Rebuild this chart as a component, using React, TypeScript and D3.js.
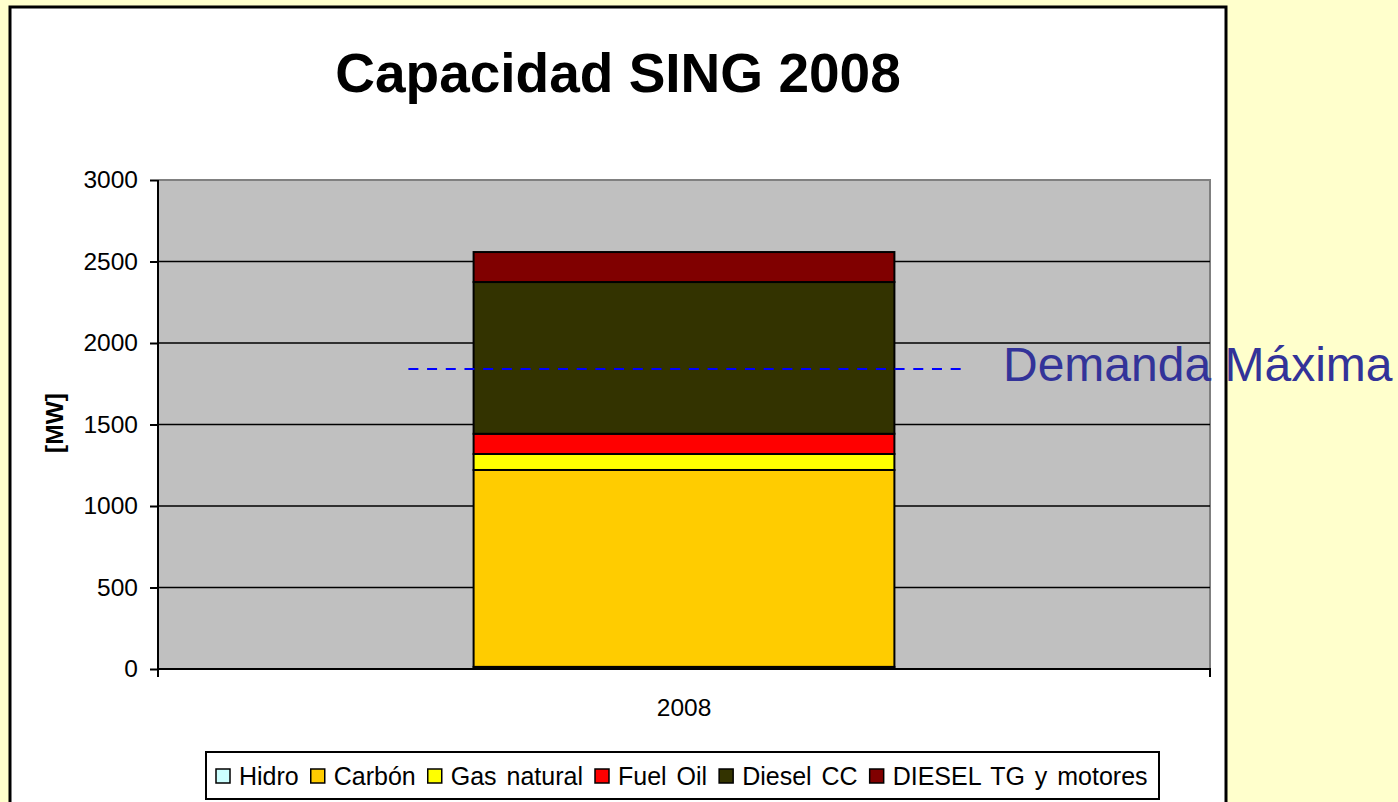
import * as d3 from "d3";
import React from "react";

// chart values
const categories = ["2008"];
const seriesNames = ["Hidro", "Carbón", "Gas natural", "Fuel Oil", "Diesel CC", "DIESEL TG y motores"];
const seriesColors = ["#CCFFFF", "#FFCC00", "#FFFF00", "#FF0000", "#333300", "#800000"];
const hidro = [13];
const carbon = [1208];
const gasNatural = [98];
const fuelOil = [124];
const dieselCC = [931];
const dieselTG = [184];
const demandaMaxima = 1840;
const yTicks = [0, 500, 1000, 1500, 2000, 2500, 3000];

const App = () => {
  const ref = React.useRef<SVGSVGElement>(null);

  React.useEffect(() => {
    const svg = d3.select(ref.current);
    svg.selectAll("*").remove();
    const font = "'Liberation Sans', Arial, sans-serif";

    // page + chart frame
    svg.append("rect").attr("width", 1398).attr("height", 802).attr("fill", "#FFFFCC");
    svg
      .append("rect")
      .attr("x", 10)
      .attr("y", 7)
      .attr("width", 1216)
      .attr("height", 820)
      .attr("fill", "white")
      .attr("stroke", "black")
      .attr("stroke-width", 3);

    svg
      .append("text")
      .attr("x", 618)
      .attr("y", 92)
      .attr("text-anchor", "middle")
      .attr("font-family", font)
      .attr("font-weight", "bold")
      .attr("font-size", 55)
      .text("Capacidad SING 2008");

    const plot = { left: 158, right: 1210, top: 180, bottom: 669 };

    const y = d3.scaleLinear().domain([0, 3000]).range([plot.bottom, plot.top]);
    const x = d3
      .scaleBand()
      .domain(categories)
      .range([plot.left, plot.right])
      .paddingInner(0)
      .paddingOuter(0.75);

    // grey plot area, grey border top/right
    svg
      .append("rect")
      .attr("x", plot.left)
      .attr("y", plot.top)
      .attr("width", plot.right - plot.left)
      .attr("height", plot.bottom - plot.top)
      .attr("fill", "#C0C0C0");
    svg
      .append("path")
      .attr("d", `M${plot.left},${plot.top}H${plot.right}V${plot.bottom}`)
      .attr("fill", "none")
      .attr("stroke", "#808080")
      .attr("stroke-width", 2);

    // gridlines
    svg
      .append("g")
      .selectAll("line")
      .data(yTicks.filter((t) => t > 0 && t < 3000))
      .enter()
      .append("line")
      .attr("x1", plot.left)
      .attr("x2", plot.right)
      .attr("y1", (d) => y(d))
      .attr("y2", (d) => y(d))
      .attr("stroke", "black")
      .attr("stroke-width", 1.5);

    // stacked bar
    const table = categories.map((c, i) => ({
      cat: c,
      [seriesNames[0]]: hidro[i],
      [seriesNames[1]]: carbon[i],
      [seriesNames[2]]: gasNatural[i],
      [seriesNames[3]]: fuelOil[i],
      [seriesNames[4]]: dieselCC[i],
      [seriesNames[5]]: dieselTG[i],
    }));
    const stacked = d3.stack<any>().keys(seriesNames)(table);

    stacked.forEach((layer, li) => {
      svg
        .append("g")
        .selectAll("rect")
        .data(layer)
        .enter()
        .append("rect")
        .attr("x", (d: any) => x(d.data.cat)!)
        .attr("width", x.bandwidth())
        .attr("y", (d) => y(d[1]))
        .attr("height", (d) => y(d[0]) - y(d[1]))
        .attr("fill", seriesColors[li])
        .attr("stroke", "black")
        .attr("stroke-width", 2);
    });

    // axes
    const yAxis = d3
      .axisLeft(y)
      .tickValues(yTicks)
      .tickFormat(d3.format("d"))
      .tickSize(8)
      .tickPadding(12);
    const yg = svg.append("g").attr("transform", `translate(${plot.left},0)`).call(yAxis);
    yg.select(".domain").attr("stroke", "black").attr("stroke-width", 2).attr("d", `M0,${plot.top}V${plot.bottom}`);
    yg.selectAll(".tick line").attr("stroke", "black").attr("stroke-width", 2);
    yg.selectAll(".tick text").attr("font-family", font).attr("font-size", 24.5).attr("fill", "black");

    const xAxis = d3.axisBottom(x).tickSize(0).tickPadding(30);
    const xg = svg.append("g").attr("transform", `translate(0,${plot.bottom})`).call(xAxis);
    xg.select(".domain").attr("stroke", "black").attr("stroke-width", 2).attr("d", `M${plot.left},8V0H${plot.right}V8`);
    xg.selectAll(".tick text").attr("font-family", font).attr("font-size", 24.5).attr("fill", "black");

    // axis title
    svg
      .append("text")
      .attr("transform", `translate(63,423) rotate(-90)`)
      .attr("text-anchor", "middle")
      .attr("font-family", font)
      .attr("font-weight", "bold")
      .attr("font-size", 24.5)
      .text("[MW]");

    // demanda maxima
    const bx = x(categories[0])!;
    const bw = x.bandwidth();
    svg
      .append("line")
      .attr("x1", bx - bw * 0.155)
      .attr("x2", bx + bw * 1.16)
      .attr("y1", y(demandaMaxima))
      .attr("y2", y(demandaMaxima))
      .attr("stroke", "#0000FF")
      .attr("stroke-width", 2)
      .attr("stroke-dasharray", "10,8.7");
    svg
      .append("text")
      .attr("x", 1003)
      .attr("y", y(demandaMaxima) + 12)
      .attr("font-family", font)
      .attr("font-size", 48)
      .attr("fill", "#333399")
      .text("Demanda Máxima");

    // legend
    const lg = svg.append("g");
    lg.append("rect")
      .attr("x", 206)
      .attr("y", 752)
      .attr("width", 953)
      .attr("height", 47)
      .attr("fill", "white")
      .attr("stroke", "black")
      .attr("stroke-width", 2);
    let cx = 216;
    seriesNames.forEach((name, i) => {
      lg.append("rect")
        .attr("x", cx)
        .attr("y", 769)
        .attr("width", 14)
        .attr("height", 14)
        .attr("fill", seriesColors[i])
        .attr("stroke", "black")
        .attr("stroke-width", 1.5);
      const t = lg
        .append("text")
        .attr("x", cx + 23)
        .attr("y", 785)
        .attr("font-family", font)
        .attr("font-size", 25)
        .attr("word-spacing", 3)
        .text(name);
      const w = (t.node() as SVGTextElement).getBBox().width;
      cx += 23 + w + 12;
    });
  }, []);

  return (
    <div style={{ position: "absolute", left: 0, top: 0 }}>
      <svg ref={ref} width={1398} height={802} style={{ display: "block" }} />
    </div>
  );
};

export default App;
